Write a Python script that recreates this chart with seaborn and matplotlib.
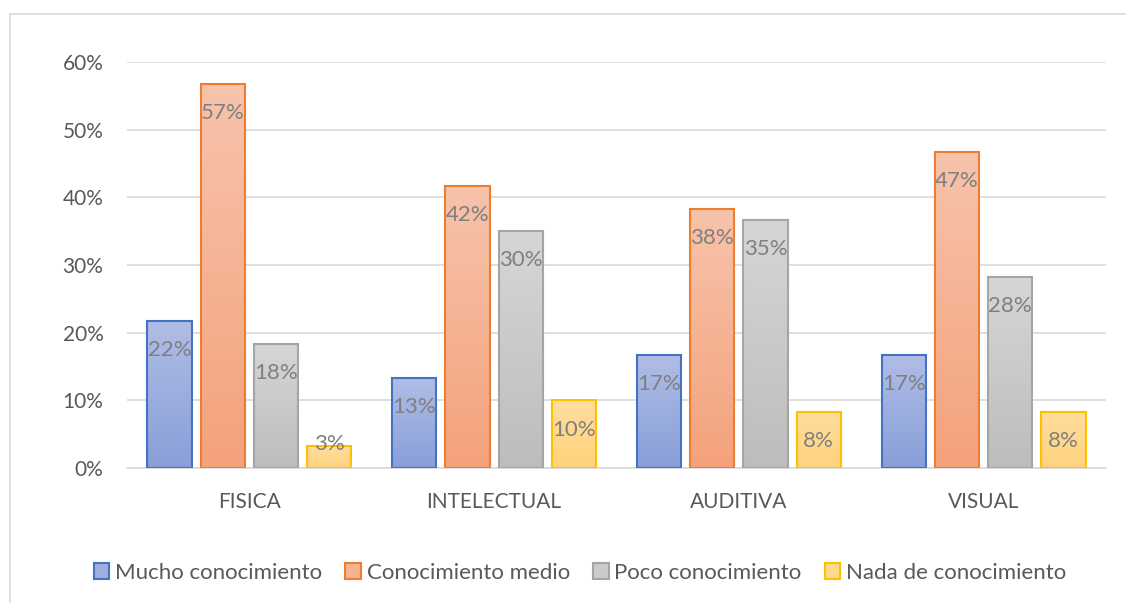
import numpy as np
import pandas as pd
import matplotlib
matplotlib.use('Agg')
import matplotlib.pyplot as plt
import seaborn as sns
from matplotlib.patches import Rectangle
from matplotlib.colors import LinearSegmentedColormap

# data
categorias = ['FISICA', 'INTELECTUAL', 'AUDITIVA', 'VISUAL']
series = ['Mucho conocimiento', 'Conocimiento medio', 'Poco conocimiento', 'Nada de conocimiento']
mucho = [21.7, 13.3, 16.7, 16.7]
medio = [56.7, 41.7, 38.3, 46.7]
poco = [18.3, 35.0, 36.7, 28.3]
nada = [3.3, 10.0, 8.3, 8.3]
# labels as printed on the chart
etiquetas = [['22%', '13%', '17%', '17%'],
             ['57%', '42%', '38%', '47%'],
             ['18%', '30%', '35%', '28%'],
             ['3%', '10%', '8%', '8%']]
yticks = [0, 10, 20, 30, 40, 50, 60]

edge_cols = ['#4472c4', '#ed7d31', '#a5a5a5', '#ffc000']
top_cols = ['#b0bde6', '#f7c3ab', '#d6d6d6', '#ffdea0']
bot_cols = ['#889fd8', '#f4a27c', '#bdbdbd', '#ffd27c']
fill_cols = ['#9dafe0', '#f5b394', '#cbcbcb', '#ffd98e']

df = pd.DataFrame({
    'categoria': categorias * 4,
    'serie': np.repeat(series, len(categorias)),
    'valor': mucho + medio + poco + nada,
})

sns.set_style('white')
plt.rcParams['font.family'] = ['Lato', 'DejaVu Sans']

fig = plt.figure(figsize=(11.26, 6.03), dpi=100)
ax = fig.add_axes([127 / 1126, 1 - 468 / 603, (1106 - 127) / 1126, (468 - 62) / 603])

sns.barplot(data=df, x='categoria', y='valor', hue='serie', order=categorias,
            hue_order=series, palette=fill_cols, width=0.87, gap=0.17,
            edgecolor='none', ax=ax, legend=False)

# gradient fill + outline per bar, plus the labels
for i, cont in enumerate(ax.containers):
    cmap = LinearSegmentedColormap.from_list('g%d' % i, [bot_cols[i], top_cols[i]])
    for j, bar in enumerate(cont):
        x0, w, h = bar.get_x(), bar.get_width(), bar.get_height()
        bar.set_facecolor('none')
        grad = np.linspace(0, 1, 100).reshape(-1, 1)
        ax.imshow(grad, extent=(x0, x0 + w, 0, h), origin='lower', cmap=cmap,
                  aspect='auto', zorder=2)
        ax.add_patch(Rectangle((x0, 0), w, h, facecolor='none', edgecolor=edge_cols[i],
                               lw=1.5, zorder=3))
        if h > 6:
            ax.annotate(etiquetas[i][j], (x0 + w / 2, h), xytext=(0, -21),
                        textcoords='offset points', ha='center', va='center',
                        fontsize=16, color='#7f7f7f', zorder=4)
        else:
            ax.text(x0 + w / 2, h + 0.2, etiquetas[i][j], ha='center', va='center',
                    fontsize=16, color='#7f7f7f', zorder=4)

ax.set_xlim(-0.5, 3.5)
ax.set_ylim(0, 60)
ax.set_yticks(yticks)
ax.set_yticklabels([f'{t}%' for t in yticks])
ax.yaxis.grid(True, color='#d9d9d9', lw=1.2)
ax.set_axisbelow(True)
for s in ['top', 'right', 'left']:
    ax.spines[s].set_visible(False)
ax.spines['bottom'].set_color('#d9d9d9')
ax.spines['bottom'].set_linewidth(1.2)
ax.tick_params(axis='both', length=0, labelsize=15, colors='#595959')
ax.tick_params(axis='y', pad=17)
ax.tick_params(axis='x', pad=17)
ax.set_xlabel('')
ax.set_ylabel('')

handles = [Rectangle((0, 0), 1, 1, facecolor=fill_cols[i], edgecolor=edge_cols[i], lw=1.5)
           for i in range(4)]
fig.legend(handles, series, loc='center', bbox_to_anchor=(580 / 1126, 1 - 573 / 603),
           ncol=4, frameon=False, fontsize=16, handlelength=0.7, handleheight=0.7,
           handletextpad=0.25, columnspacing=1.05, labelcolor='#595959')

# chart border
fig.add_artist(Rectangle((10 / 1126, -0.05), 1.2, 1 - 14 / 603 + 0.05, transform=fig.transFigure,
                         facecolor='none', edgecolor='#d9d9d9', lw=1.2))

fig.savefig('out.png', dpi=100)
